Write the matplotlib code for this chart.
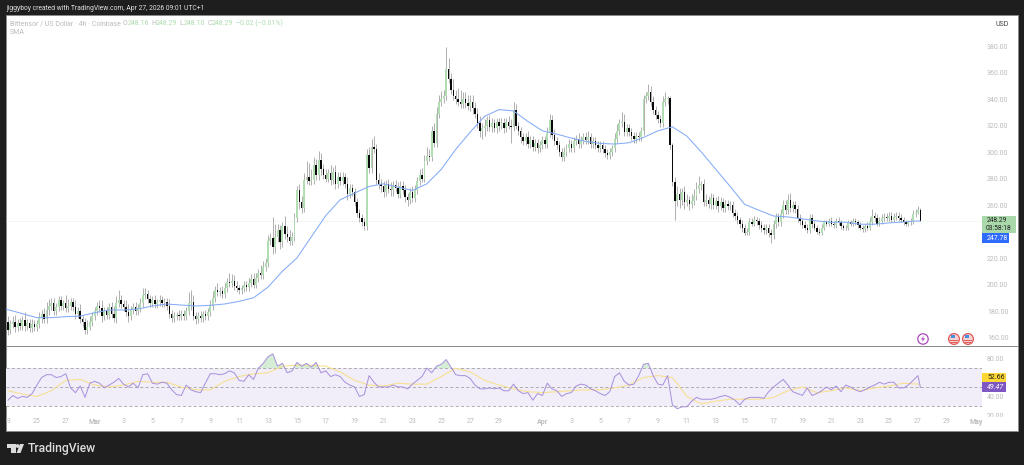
"""Bittensor / US Dollar 4h candles with SMA and RSI, TradingView style."""

import matplotlib
matplotlib.use("Agg")
import matplotlib.pyplot as plt
import numpy as np
from matplotlib.patches import Circle, Polygon, Rectangle
from matplotlib.transforms import Affine2D, Bbox

W, H = 1024, 465

# 4h closes, one row per day, first value is the last candle of Feb 22
closes = [
    172,
    166, 170, 172, 168, 171, 169,  # Feb 23
    173, 169, 171, 167, 170, 168,
    170, 175, 178, 174, 181, 184,
    186, 180, 183, 188, 184, 186,
    182, 184, 187, 183, 178, 180,
    174, 172, 166, 168, 172, 176,
    180, 184, 182, 176, 180, 177,  # Mar 1
    183, 178, 175, 186, 188, 185,
    183, 179, 176, 181, 183, 180,
    182, 186, 192, 193, 189, 186,
    188, 185, 187, 188, 186, 187,
    184, 178, 175, 176, 177, 176,
    178, 176, 180, 186, 187, 176,
    174, 176, 175, 178, 176, 179,
    184, 190, 196, 194, 195, 193,
    197, 202, 201, 203, 199, 197,
    196, 197, 200, 198, 201, 204,
    200, 205, 209, 207, 213, 216,
    233, 235, 228, 236, 241, 232,  # Mar 13
    244, 238, 236, 233, 236, 250,
    271, 262, 258, 279, 281, 278,
    279, 290, 283, 294, 287, 283,
    280, 284, 279, 285, 276, 281,
    278, 281, 276, 268, 273, 270,
    262, 254, 250, 247, 244, 298,
    288, 304, 302, 279, 276, 274,
    270, 276, 272, 271, 275, 273,
    268, 274, 271, 266, 264, 270,
    265, 271, 278, 283, 280, 293,
    297, 296, 316, 307, 329, 338,
    340, 342, 363, 355, 347, 342,  # Mar 25
    340, 338, 336, 340, 337, 335,
    338, 333, 329, 322, 316, 318,
    320, 324, 319, 322, 318, 323,
    320, 322, 318, 323, 320, 319,
    332, 320, 316, 311, 308, 311,
    306, 309, 304, 307, 303, 305,
    309, 306, 314, 324, 313, 308,  # Apr 1
    305, 300, 296, 300, 303, 306,
    303, 308, 310, 306, 309, 311,
    309, 311, 306, 308, 305, 303,
    305, 302, 299, 298, 300, 303,
    310, 316, 322, 323, 315, 318,
    315, 312, 310, 312, 311, 316,
    340, 342, 345, 338, 332, 328,
    325, 322, 338, 340, 341, 305,  # Apr 9
    277, 263, 268, 264, 270, 262,
    264, 261, 263, 267, 272, 275,
    276, 262, 264, 261, 265, 260,
    263, 259, 262, 258, 261, 259,
    260, 254, 252, 249, 246, 243,
    239, 240, 247, 246, 249, 248,
    245, 243, 241, 243, 239, 237,
    246, 251, 247, 253, 260, 256,  # Apr 17
    264, 258, 260, 257, 250, 248,
    245, 243, 241, 250, 246, 243,
    240, 239, 243, 247, 246, 248,
    246, 245, 248, 247, 244, 243,
    243, 247, 246, 248, 247, 245,
    243, 242, 244, 243, 247, 252,
    250, 246, 248, 250, 251, 250,
    252, 249, 251, 252, 250, 249,
    247, 246, 247, 248, 253, 254,
    256, 248.29,
]

# how far each high stands above the candle body
wick_up = [
    3,
    4, 3, 4, 5, 3, 4,
    3, 6, 3, 3, 4, 3,
    3, 4, 3, 4, 6, 5,
    4, 4, 3, 3, 3, 2,
    6, 5, 3, 3, 5, 3,
    5, 3, 3, 5, 4, 3,
    3, 3, 4, 6, 3, 3,
    3, 4, 6, 5, 8, 4,
    3, 5, 6, 3, 3, 4,
    3, 4, 5, 4, 3, 3,
    3, 4, 2, 4, 3, 3,
    3, 5, 3, 3, 2, 4,
    3, 3, 3, 8, 9, 5,
    3, 3, 4, 2, 3, 3,
    4, 5, 3, 5, 3, 4,
    4, 3, 7, 5, 4, 4,
    3, 3, 3, 3, 4, 4,
    5, 4, 3, 6, 5, 4,
    4, 4, 16, 10, 5, 4,
    3, 8, 6, 5, 4, 4,
    3, 5, 5, 5, 12, 11,
    8, 6, 5, 7, 5, 4,
    4, 3, 6, 4, 5, 4,
    4, 4, 3, 5, 3, 3,
    3, 3, 3, 3, 3, 4,
    6, 6, 8, 4, 5, 4,
    4, 3, 4, 5, 3, 4,
    4, 4, 4, 4, 3, 3,
    4, 4, 3, 4, 5, 5,
    7, 5, 4, 6, 5, 5,
    6, 5, 16, 8, 5, 8,
    5, 8, 9, 5, 5, 6,
    5, 5, 5, 4, 5, 4,
    5, 3, 4, 4, 3, 3,
    3, 4, 4, 3, 4, 5,
    6, 4, 3, 3, 3, 3,
    5, 3, 3, 3, 3, 3,
    3, 3, 5, 5, 4, 4,
    3, 3, 3, 4, 3, 4,
    3, 3, 3, 4, 3, 3,
    4, 5, 3, 3, 3, 3,
    3, 3, 3, 3, 3, 2,
    4, 5, 3, 7, 6, 3,
    3, 3, 3, 3, 3, 3,
    3, 3, 6, 5, 4, 3,
    3, 3, 4, 5, 1, 1,
    2, 4, 6, 5, 3, 4,
    4, 3, 5, 5, 5, 7,
    2, 4, 4, 3, 4, 3,
    3, 4, 4, 3, 3, 3,
    3, 3, 3, 3, 2, 3,
    3, 3, 3, 3, 3, 2,
    2, 3, 3, 3, 3, 3,
    3, 3, 3, 4, 4, 4,
    4, 5, 3, 3, 3, 3,
    2, 3, 3, 3, 3, 2,
    2, 3, 3, 2, 2, 2,
    3, 2, 2, 3, 2, 2,
    2, 2, 2, 2, 2, 2,
    2, 2, 2, 3, 4, 5,
    3, 3, 3, 3, 3, 3,
    3, 3, 3, 3, 3, 3,
    2, 2, 2, 2, 3, 3,
    3, 2,
]

# how far each low hangs under the candle body
wick_dn = [
    3,
    4, 3, 3, 4, 3, 3,
    3, 4, 3, 3, 3, 3,
    3, 3, 4, 3, 3, 4,
    3, 3, 3, 3, 3, 3,
    3, 3, 3, 3, 4, 3,
    3, 4, 3, 3, 2, 3,
    3, 3, 3, 4, 3, 3,
    3, 3, 3, 4, 3, 3,
    3, 3, 4, 3, 3, 3,
    3, 3, 3, 3, 3, 3,
    3, 3, 3, 3, 3, 3,
    3, 3, 3, 3, 3, 3,
    3, 3, 3, 3, 5, 3,
    4, 3, 3, 3, 3, 3,
    3, 3, 3, 3, 3, 3,
    3, 3, 3, 3, 3, 3,
    3, 3, 3, 3, 3, 3,
    3, 3, 3, 3, 3, 3,
    3, 3, 5, 4, 4, 5,
    4, 4, 4, 3, 3, 3,
    3, 5, 4, 3, 3, 3,
    3, 3, 4, 4, 4, 3,
    3, 3, 4, 3, 4, 3,
    3, 3, 3, 4, 3, 3,
    3, 3, 3, 3, 3, 3,
    4, 4, 3, 3, 4, 4,
    4, 3, 3, 4, 4, 3,
    3, 3, 3, 4, 5, 3,
    3, 3, 3, 3, 3, 3,
    3, 3, 3, 3, 3, 3,
    3, 3, 3, 3, 3, 3,
    4, 3, 3, 3, 4, 3,
    4, 4, 3, 4, 5, 6,
    6, 4, 3, 4, 3, 4,
    4, 3, 4, 3, 3, 12,
    3, 3, 3, 4, 3, 3,
    3, 3, 3, 3, 4, 3,
    3, 3, 3, 3, 3, 3,
    3, 3, 3, 3, 3, 3,
    3, 3, 3, 3, 3, 3,
    3, 3, 3, 3, 3, 3,
    3, 3, 3, 3, 3, 3,
    3, 3, 3, 3, 3, 3,
    3, 3, 3, 3, 3, 3,
    3, 3, 3, 3, 3, 3,
    3, 3, 3, 3, 4, 3,
    3, 14, 4, 6, 4, 5,
    3, 5, 3, 3, 3, 3,
    4, 3, 3, 3, 4, 3,
    3, 4, 3, 3, 3, 3,
    3, 3, 3, 3, 3, 3,
    2, 2, 3, 2, 2, 3,
    3, 3, 3, 3, 3, 6,
    3, 3, 3, 3, 3, 3,
    3, 3, 3, 3, 3, 3,
    2, 2, 2, 2, 3, 2,
    2, 2, 2, 2, 2, 2,
    2, 2, 2, 2, 2, 2,
    2, 2, 2, 2, 2, 2,
    2, 2, 2, 2, 2, 2,
    2, 2, 2, 2, 2, 2,
    2, 2, 2, 2, 2, 2,
    2, 2, 2, 2, 2, 2,
    1, 0.2,
]

# SMA, one reading per day, plus the last value
sma_vals = [
    181.5, 178, 175, 175, 175.7, 176.2, 178.7, 180.8, 180.8, 181.5, 183.8,
    185.3, 184.5, 183.8, 184.3, 185.3, 187.3, 190, 198, 210, 220, 236, 252,
    264, 269, 274, 276, 273.5, 271, 276, 287, 302, 315, 327, 332, 331, 323,
    316, 313.5, 310.5, 308, 306.5, 306, 307, 311, 316, 319, 312, 300, 287,
    274, 260.5, 256, 251.7, 251, 249.5, 248, 247, 247, 245.5, 245.5, 246.5,
    247.2, 248, 247.78,
]

# RSI, one reading per two candles, plus the last value
rsi_vals = [
    36, 41, 38, 40, 39, 43, 52, 60, 63, 63, 60, 61, 64, 49, 44, 51, 39, 54,
    56, 54, 49, 52, 55, 59, 53, 50, 54, 49, 63, 64, 54, 53, 55, 54, 47, 42,
    41, 52, 47, 45, 44, 54, 64, 64, 63, 64, 67, 65, 57, 56, 63, 58, 70, 75,
    82, 85, 72, 75, 65, 67, 76, 72, 75, 71, 76, 65, 67, 61, 63,
    61, 55, 52, 50, 40, 42, 62, 55, 50, 50, 50, 52, 50, 50, 48, 53, 57, 61,
    70, 65, 72, 74, 79, 71, 63, 62, 62, 59, 52, 48, 48, 49, 48, 49, 46, 46,
    53, 46, 43, 44, 36, 43, 41, 54, 48, 46, 40, 43, 44, 51, 53, 52, 48, 46,
    43, 41, 45, 61, 65, 56, 52, 53, 62, 74, 75, 62, 53, 52, 62, 31, 27,
    29, 29, 35, 39, 37, 37, 37, 38, 40, 41, 39, 36, 31, 37, 39, 39, 39, 38,
    45, 50, 54, 58, 52, 45, 43, 41, 49, 41, 43, 46, 50, 47, 51, 45, 52, 50,
    47, 45, 47, 50, 52, 55, 53, 55, 55, 49, 49, 52, 57, 62,
    49.47,
]

# RSI moving average, one reading per day, plus the last value
rsi_ma_vals = [
    46, 42.5, 40, 46, 57, 58, 52, 50, 52, 56, 55, 55, 50, 47, 47, 56, 61, 64,
    65, 72, 73, 73, 72, 66,
    57, 52, 51, 54, 53, 53, 61, 70, 66, 57, 52, 48, 45, 44, 45, 46, 47, 47,
    49, 52, 60, 62, 60,
    40, 32, 35, 37, 37, 37, 39, 46, 50, 44, 46, 49, 46, 49, 51, 54, 53,
    52.66,
]

price_ticks = list(range(160, 400, 20))
rsi_ticks = [20, 40, 60, 80]
time_ticks = [0, 12, 24, 36, 48, 60, 72, 84, 96, 108, 120, 132, 144, 156, 168, 180, 192, 204,
              222, 234, 246, 258, 270, 282, 294, 306, 318, 330, 342, 354, 366, 378, 390, 402]
time_labels = ["23", "25", "27", "Mar", "3", "5", "7", "9", "11", "13", "15", "17", "19", "21",
               "23", "25", "27", "29", "Apr", "3", "5", "7", "9", "11", "13", "15", "17", "19",
               "21", "23", "25", "27", "29", "May"]

plt.rcParams["font.family"] = ["Roboto", "DejaVu Sans"]

DARK = "#1e1e1e"
UP = "#b0ddb2"
DOWN = "#0a0a0a"
WICK = "#9a9a9a"
GREY = "#bcbcbc"

fig = plt.figure(figsize=(W / 100, H / 100), dpi=100, facecolor=DARK)
# transform that takes pixel positions measured from the top left
tp = Affine2D().scale(1 / W, -1 / H).translate(0, 1) + fig.transFigure


def px_axes(x0, y0, x1, y1):
    return fig.add_axes([x0 / W, 1 - y1 / H, (x1 - x0) / W, (y1 - y0) / H])


fig.add_artist(Rectangle((6, 15), 1012, 416, transform=tp, facecolor="white",
                         edgecolor="#8a8a8a", linewidth=0.7, zorder=-1))

ax = px_axes(6, 15, 982, 346)
ax_rsi = px_axes(6, 347, 982, 431)
for a in (ax, ax_rsi):
    a.patch.set_visible(False)
    for s in a.spines.values():
        s.set_visible(False)
    a.set_xlim(-0.83, 404.6)
    a.yaxis.tick_right()

# candles
closes = np.array(closes, dtype=float)
opens = np.r_[closes[0], closes[:-1]]
bars = np.arange(len(closes)) - 1
tops = np.maximum(opens, closes)
bottoms = np.minimum(opens, closes)
highs = tops + np.array(wick_up)
lows = bottoms - np.array(wick_dn)
rising = closes >= opens

ax.vlines(bars, lows, highs, color=WICK, linewidth=0.55, zorder=2)
ax.bar(bars[rising], (tops - bottoms)[rising], bottom=bottoms[rising], width=0.8,
       color=UP, zorder=3)
ax.bar(bars[~rising], (tops - bottoms)[~rising], bottom=bottoms[~rising], width=0.6,
       color=DOWN, zorder=3)

# SMA
sma_bars = [-1] + list(range(6, 379, 6)) + [379]
ax.plot(sma_bars, sma_vals, color="#84abf7", linewidth=0.75, zorder=4)
ax.axhline(248.29, color="#bfe3c0", linewidth=0.5, linestyle=(0, (1, 2)), zorder=1)

ax.set_ylim(153.6, 403.4)
ax.set_yticks(price_ticks)
ax.set_yticklabels([f"{t:.2f}" for t in price_ticks])
ax.set_xticks([])
ax.tick_params(axis="y", length=0, pad=3.6, labelsize=5, labelcolor=GREY)

# RSI pane
rsi_bars = list(range(0, 380, 2)) + [379]
rsi_ma_bars = list(range(0, 379, 6)) + [379]
rsi_vals = np.array(rsi_vals, dtype=float)
ax_rsi.axhspan(30, 70, color="#f1edf9", linewidth=0, zorder=1)
for level in (70, 50, 30):
    ax_rsi.axhline(level, color="#9a9a9a", linewidth=0.55, linestyle=(0, (4, 3)), zorder=2)
ax_rsi.fill_between(rsi_bars, 70, rsi_vals, where=rsi_vals > 70, interpolate=True,
                    color="#b9e0ba", alpha=0.6, linewidth=0, zorder=2)
ax_rsi.plot(rsi_ma_bars, rsi_ma_vals, color="#f8e08a", linewidth=0.75, zorder=3)
ax_rsi.plot(rsi_bars, rsi_vals, color="#a78fdc", linewidth=0.7, zorder=4)
ax_rsi.set_ylim(3.4, 92.3)
ax_rsi.set_yticks(rsi_ticks)
ax_rsi.set_yticklabels([f"{t:.2f}" for t in rsi_ticks])
ax_rsi.tick_params(axis="y", length=0, pad=3.6, labelsize=5, labelcolor=GREY)
ax_rsi.set_xticks(time_ticks)
ax_rsi.set_xticklabels(time_labels)
ax_rsi.tick_params(axis="x", length=0, pad=-9.5, labelsize=5, labelcolor=GREY)
for lbl in ax_rsi.get_yticklabels():
    if lbl.get_text() == "20.00":
        lbl.set_clip_box(Bbox([[980, H - 417], [1020, H - 400]]))
        lbl.set_clip_on(True)
for lbl in ax_rsi.get_xticklabels():
    if lbl.get_text() in ("Mar", "Apr", "May"):
        lbl.set_fontweight("bold")

# header and legend texts
fig.text(6, 8, "jiggyboy created with TradingView.com, Apr 27, 2026 09:01 UTC+1", transform=tp,
         color="#e0e0e0", fontsize=4.85, va="center")
fig.text(10, 23.5, "Bittensor / US Dollar · 4h · Coinbase", transform=tp, color="#bcbcbc",
         fontsize=5, va="center")
fig.text(10, 33, "SMA", transform=tp, color="#bcbcbc", fontsize=5, va="center")
for x, label, value in [(123, "O", "248.16"), (151.5, "H", "248.29"), (179.5, "L", "248.10"),
                        (207.5, "C", "248.29")]:
    t = fig.text(x, 23.5, label, transform=tp, color="#bcbcbc", fontsize=5, va="center")
    fig.text(x + 4.5, 23.5, value, transform=tp, color="#acdcae", fontsize=5, va="center")
fig.text(235.5, 23.5, "−0.02 (−0.01%)", transform=tp, color="#acdcae", fontsize=5, va="center")
fig.text(995, 24, "USD", transform=tp, color="#444444", fontsize=5, va="center")

# price scale badges
for x0, y0, x1, y1, col in [(982, 216, 1016, 233, "#a9d9ab"), (982, 233, 1009, 243, "#2f6bff"),
                            (982, 373, 1006, 382, "#fdd835"), (982, 382, 1006, 392, "#7e57c2")]:
    fig.add_artist(Rectangle((x0, y0), x1 - x0, y1 - y0, transform=tp, facecolor=col,
                             edgecolor="none", zorder=2))
fig.text(987, 220.2, "248.29", transform=tp, color="#1c1c1c", fontsize=4.8, va="center", zorder=3)
fig.text(985.5, 228.8, "03:58:18", transform=tp, color="#1c1c1c", fontsize=4.8, va="center", zorder=3)
fig.text(987, 238, "247.78", transform=tp, color="white", fontsize=5, va="center", zorder=3)
fig.text(987, 377.5, "52.66", transform=tp, color="#1c1c1c", fontsize=5, va="center", zorder=3)
fig.text(987, 387, "49.47", transform=tp, color="white", fontsize=5, va="center",
         style="italic", zorder=3)

# separator between panes and the left edge over the clipped date label
fig.add_artist(Rectangle((6, 345.6), 1012, 1, transform=tp, facecolor="#8a8a8a", edgecolor="none", zorder=2))
fig.add_artist(Rectangle((0, 15), 5.6, 420, transform=tp, facecolor=DARK, edgecolor="none", zorder=2))

# event icons
fig.add_artist(Circle((923, 339), 5.2, transform=tp, facecolor="white", edgecolor="#ab47bc",
                      linewidth=0.9, zorder=2))
fig.add_artist(Polygon([(924, 335.5), (921, 339.6), (923, 339.6), (922, 342.5), (925, 338.4),
                        (923, 338.4)], transform=tp, facecolor="#ab47bc", edgecolor="none", zorder=3))
for cx in (954, 968):
    fig.add_artist(Circle((cx, 339), 5.4, transform=tp, facecolor="#f7d5d5", edgecolor="#e05a5a",
                          linewidth=0.9, zorder=2))
    fig.add_artist(Rectangle((cx - 3.5, 335), 4.5, 3.4, transform=tp, facecolor="#4a90e2",
                             edgecolor="none", zorder=3))
    fig.add_artist(Rectangle((cx - 4.2, 340), 8.4, 0.9, transform=tp, facecolor="#e05a5a",
                             edgecolor="none", zorder=3))
    fig.add_artist(Rectangle((cx - 3.4, 342), 6.8, 0.8, transform=tp, facecolor="#e05a5a",
                             edgecolor="none", zorder=3))

# TradingView logo
logo = "#dcdcdc"
fig.add_artist(Polygon([(7, 444), (15.5, 444), (15.5, 453), (11, 453), (11, 448), (7, 448)],
                       transform=tp, facecolor=logo, edgecolor="none"))
fig.add_artist(Circle((17.6, 446), 1.9, transform=tp, facecolor=logo, edgecolor="none"))
fig.add_artist(Polygon([(20, 444), (24, 444), (20.5, 453), (16.5, 453)], transform=tp,
                       facecolor=logo, edgecolor="none"))
fig.text(27.5, 448.5, "TradingView", transform=tp, color=logo, fontsize=8.7, va="center",
         fontweight="medium")

fig.savefig("out.png", dpi=100, facecolor=DARK)
